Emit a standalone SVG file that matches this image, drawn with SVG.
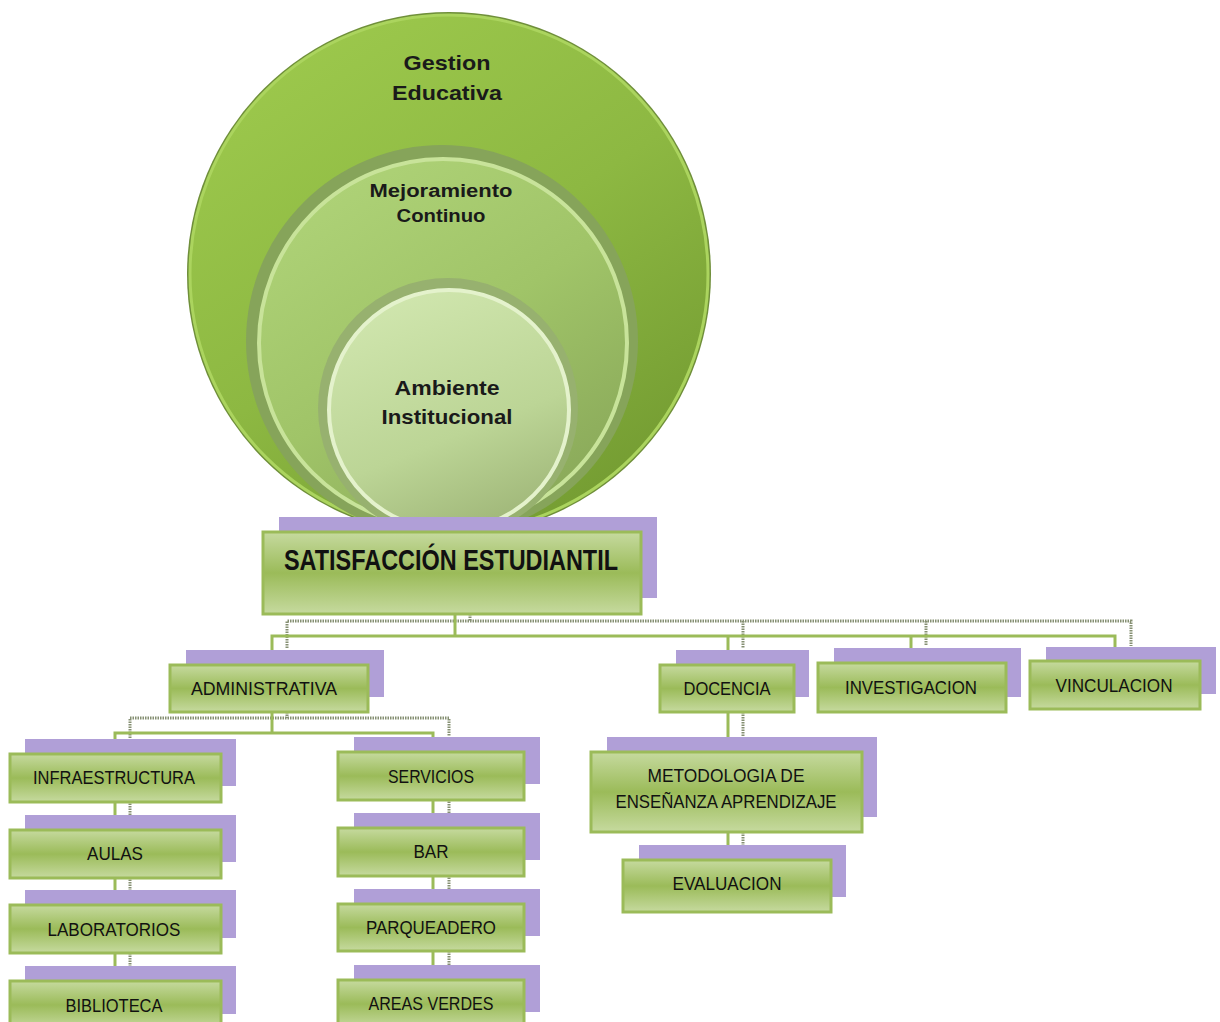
<svg xmlns="http://www.w3.org/2000/svg" width="1220" height="1022" viewBox="0 0 1220 1022">
<defs>
<linearGradient id="gBox" x1="0" y1="0" x2="0" y2="1">
<stop offset="0" stop-color="#c6da9f"/>
<stop offset="0.5" stop-color="#9bbb59"/>
<stop offset="1" stop-color="#c6da9f"/>
</linearGradient>
<linearGradient id="gOuter" x1="0.2" y1="0.05" x2="0.8" y2="0.95">
<stop offset="0" stop-color="#9cc84c"/>
<stop offset="0.5" stop-color="#8db842"/>
<stop offset="1" stop-color="#749c32"/>
</linearGradient>
<linearGradient id="gMid" x1="0.2" y1="0.05" x2="0.8" y2="0.95">
<stop offset="0" stop-color="#aed277"/>
<stop offset="0.5" stop-color="#a0c468"/>
<stop offset="1" stop-color="#8aa95a"/>
</linearGradient>
<linearGradient id="gIn" x1="0.3" y1="0" x2="0.7" y2="1">
<stop offset="0" stop-color="#d0e6ae"/>
<stop offset="0.6" stop-color="#bcd596"/>
<stop offset="1" stop-color="#9fb678"/>
</linearGradient>
<clipPath id="cTop"><rect x="0" y="0" width="1220" height="520"/></clipPath>
</defs>
<style>
.sh{fill:#b09fd7}
.bx{fill:url(#gBox);stroke:#9bbb59;stroke-width:3}
.t{font-family:"Liberation Sans Narrow","Liberation Sans",Arial,sans-serif;font-size:18px;fill:#111;text-anchor:middle}
.ct{font-family:"Liberation Sans",Arial,sans-serif;font-weight:bold;fill:#1a1a1a;text-anchor:middle}
.gl{stroke:#9bbb59;stroke-width:3;fill:none}
.dl{stroke:#858f72;stroke-width:3;fill:none;stroke-dasharray:1.5 1}
</style>
<g id="circles" clip-path="url(#cTop)">
<g id="gestion">
<circle cx="449" cy="274" r="262" fill="#6f8f3a"/>
<circle cx="449" cy="274" r="259" fill="url(#gOuter)" stroke="#abd45e" stroke-width="3"/>
<text class="ct" x="447" y="70" font-size="21" textLength="87" lengthAdjust="spacingAndGlyphs">Gestion</text>
<text class="ct" x="447" y="100" font-size="21" textLength="110" lengthAdjust="spacingAndGlyphs">Educativa</text>
</g>
<g id="mejoramiento">
<circle cx="442" cy="341" r="196" fill="#86a45a"/>
<circle cx="443" cy="343" r="184" fill="url(#gMid)" stroke="#c8e39a" stroke-width="4"/>
<text class="ct" x="441" y="197" font-size="18" textLength="143" lengthAdjust="spacingAndGlyphs">Mejoramiento</text>
<text class="ct" x="441" y="222" font-size="18" textLength="89" lengthAdjust="spacingAndGlyphs">Continuo</text>
</g>
<g id="ambiente">
<circle cx="448" cy="408" r="130" fill="#97b16f"/>
<circle cx="449" cy="410" r="120" fill="url(#gIn)" stroke="#e4f2cc" stroke-width="4"/>
<text class="ct" x="447" y="395" font-size="21" textLength="105" lengthAdjust="spacingAndGlyphs">Ambiente</text>
<text class="ct" x="447" y="424" font-size="21" textLength="131" lengthAdjust="spacingAndGlyphs">Institucional</text>
</g>
</g>
<g id="connectors">
<polyline class="dl" points="470,614 470,621"/>
<polyline class="dl" points="287,648 287,621 1131,621 1131,646"/>
<polyline class="dl" points="743,621 743,648"/>
<polyline class="dl" points="926,621 926,646"/>
<polyline class="gl" points="455,614 455,636"/>
<polyline class="gl" points="272,664 272,636 1115,636 1115,660"/>
<polyline class="gl" points="728,636 728,664"/>
<polyline class="gl" points="911,636 911,662"/>
<polyline class="dl" points="287,697 287,718"/>
<polyline class="dl" points="130,738 130,718 449,718 449,736"/>
<polyline class="gl" points="272,712 272,733"/>
<polyline class="gl" points="115,753 115,733 433,733 433,751"/>
<polyline class="gl" points="115,802 115,830"/>
<polyline class="gl" points="115,878 115,905"/>
<polyline class="gl" points="115,953 115,981"/>
<polyline class="dl" points="130,786 130,815"/>
<polyline class="dl" points="130,862 130,890"/>
<polyline class="dl" points="130,938 130,966"/>
<polyline class="gl" points="433,800 433,828"/>
<polyline class="gl" points="433,876 433,904"/>
<polyline class="gl" points="433,951 433,980"/>
<polyline class="dl" points="449,784 449,813"/>
<polyline class="dl" points="449,860 449,889"/>
<polyline class="dl" points="449,936 449,965"/>
<polyline class="gl" points="728,712 728,752"/>
<polyline class="gl" points="728,832 728,860"/>
<polyline class="dl" points="743,697 743,737"/>
<polyline class="dl" points="743,817 743,845"/>
</g>
<g id="satisfaccion">
<rect class="sh" x="279" y="517" width="378" height="81"/>
<rect class="bx" x="263" y="532" width="378" height="82"/>
<text x="451" y="570" font-family="'Liberation Sans Narrow','Liberation Sans',Arial,sans-serif" font-weight="bold" font-size="30" fill="#111" text-anchor="middle" textLength="334" lengthAdjust="spacingAndGlyphs">SATISFACCIÓN ESTUDIANTIL</text>
</g>
<g id="administrativa">
<rect class="sh" x="186" y="650" width="198" height="47"/>
<rect class="bx" x="170" y="665" width="198" height="47"/>
<text class="t" x="264" y="695" textLength="146" lengthAdjust="spacingAndGlyphs">ADMINISTRATIVA</text>
</g>
<g id="docencia">
<rect class="sh" x="676" y="650" width="133" height="47"/>
<rect class="bx" x="660" y="665" width="134" height="47"/>
<text class="t" x="727" y="695" textLength="87" lengthAdjust="spacingAndGlyphs">DOCENCIA</text>
</g>
<g id="investigacion">
<rect class="sh" x="834" y="648" width="187" height="49"/>
<rect class="bx" x="818" y="663" width="188" height="49"/>
<text class="t" x="911" y="694" textLength="132" lengthAdjust="spacingAndGlyphs">INVESTIGACION</text>
</g>
<g id="vinculacion">
<rect class="sh" x="1046" y="647" width="170" height="47"/>
<rect class="bx" x="1030" y="661" width="170" height="48"/>
<text class="t" x="1114" y="692" textLength="117" lengthAdjust="spacingAndGlyphs">VINCULACION</text>
</g>
<g id="infraestructura">
<rect class="sh" x="25" y="739" width="211" height="47"/>
<rect class="bx" x="10" y="754" width="211" height="48"/>
<text class="t" x="114" y="784" textLength="162" lengthAdjust="spacingAndGlyphs">INFRAESTRUCTURA</text>
</g>
<g id="aulas">
<rect class="sh" x="25" y="815" width="211" height="47"/>
<rect class="bx" x="10" y="830" width="211" height="48"/>
<text class="t" x="115" y="860" textLength="56" lengthAdjust="spacingAndGlyphs">AULAS</text>
</g>
<g id="laboratorios">
<rect class="sh" x="25" y="890" width="211" height="48"/>
<rect class="bx" x="10" y="905" width="211" height="48"/>
<text class="t" x="114" y="936" textLength="133" lengthAdjust="spacingAndGlyphs">LABORATORIOS</text>
</g>
<g id="biblioteca">
<rect class="sh" x="25" y="966" width="211" height="48"/>
<rect class="bx" x="10" y="981" width="211" height="48"/>
<text class="t" x="114" y="1012" textLength="97" lengthAdjust="spacingAndGlyphs">BIBLIOTECA</text>
</g>
<g id="servicios">
<rect class="sh" x="354" y="737" width="186" height="47"/>
<rect class="bx" x="338" y="752" width="186" height="48"/>
<text class="t" x="431" y="783" textLength="86" lengthAdjust="spacingAndGlyphs">SERVICIOS</text>
</g>
<g id="bar">
<rect class="sh" x="354" y="813" width="186" height="47"/>
<rect class="bx" x="338" y="828" width="186" height="48"/>
<text class="t" x="431" y="858" textLength="35" lengthAdjust="spacingAndGlyphs">BAR</text>
</g>
<g id="parqueadero">
<rect class="sh" x="354" y="889" width="186" height="47"/>
<rect class="bx" x="338" y="904" width="186" height="47"/>
<text class="t" x="431" y="934" textLength="130" lengthAdjust="spacingAndGlyphs">PARQUEADERO</text>
</g>
<g id="areas-verdes">
<rect class="sh" x="354" y="965" width="186" height="47"/>
<rect class="bx" x="338" y="980" width="186" height="48"/>
<text class="t" x="431" y="1010" textLength="125" lengthAdjust="spacingAndGlyphs">AREAS VERDES</text>
</g>
<g id="metodologia">
<rect class="sh" x="607" y="737" width="270" height="80"/>
<rect class="bx" x="591" y="752" width="271" height="80"/>
<text class="t" x="726" y="782" textLength="157" lengthAdjust="spacingAndGlyphs">METODOLOGIA DE</text>
<text class="t" x="726" y="808" textLength="221" lengthAdjust="spacingAndGlyphs">ENSEÑANZA APRENDIZAJE</text>
</g>
<g id="evaluacion">
<rect class="sh" x="639" y="845" width="207" height="52"/>
<rect class="bx" x="623" y="860" width="208" height="52"/>
<text class="t" x="727" y="890" textLength="109" lengthAdjust="spacingAndGlyphs">EVALUACION</text>
</g>
</svg>
